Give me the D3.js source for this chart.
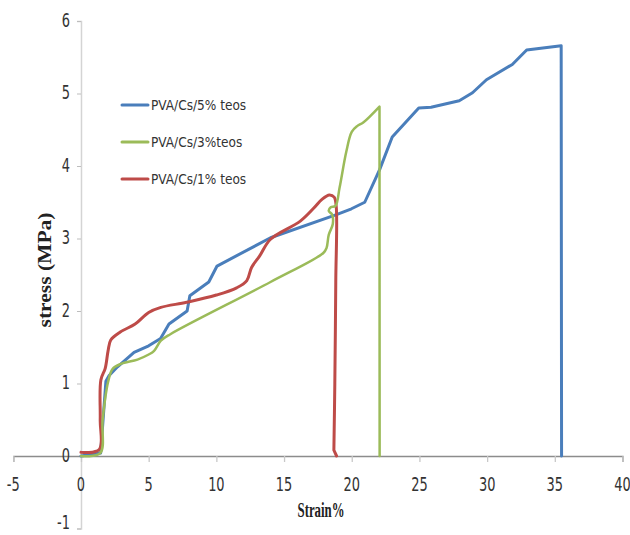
<!DOCTYPE html>
<html>
<head>
<meta charset="utf-8">
<script src="https://cdn.jsdelivr.net/npm/d3@7"></script>
<style>
   html, body { margin: 0; padding: 0; background: #fff; }
   svg { display: block; }
   .tick-label { font-family: "Liberation Sans Narrow", "DejaVu Sans Condensed", sans-serif; font-size: 16px; fill: #333; }
   .legend-label { font-family: "Liberation Sans Narrow", "DejaVu Sans Condensed", sans-serif; font-size: 13.5px; fill: #333; }
   .axis-title { font-family: "Liberation Serif", "DejaVu Serif", serif; font-weight: bold; fill: #222; }
</style>
</head>
<body>
<svg id="chart" width="630" height="535"></svg>
<script>
const seriesNames = [ 'PVA/Cs/5% teos', 'PVA/Cs/3%teos', 'PVA/Cs/1% teos' ];
const seriesColors = [ '#4a7ebb', '#9bbb59', '#be4b48' ];

const xTicks = [ -5, 0, 5, 10, 15, 20, 25, 30, 35, 40 ];
const yTicks = [ -1, 0, 1, 2, 3, 4, 5, 6 ];

// PVA/Cs/5% teos
const strain5 = [ 0, 1.45, 1.84, 2.08, 2.7, 3.92, 5.0, 5.88, 6.5, 7.84, 8.04, 9.44, 10.05, 14.0, 18.87, 19.98,
   20.96, 22.06, 22.99, 24.95, 25.86, 27.94, 28.92, 29.95, 31.86, 32.92, 35.47, 35.5 ];
const stress5 = [ 0, 0.04, 1.03, 1.11, 1.23, 1.43, 1.52, 1.62, 1.82, 2.0, 2.21, 2.4, 2.62, 3.01, 3.33, 3.41,
   3.5, 3.95, 4.4, 4.8, 4.81, 4.9, 5.01, 5.19, 5.4, 5.6, 5.66, 0 ];

// PVA/Cs/3%teos
const strain3 = [ 0, 1.42, 1.6, 2.0, 2.33, 2.94, 4.17, 5.0, 5.4, 5.9, 6.6, 14.0, 17.9, 18.14, 18.3, 18.6, 18.55,
   18.3, 18.45, 18.8, 19.1, 19.6, 20.0, 20.4, 20.85, 22.05, 22.06 ];
const stress3 = [ 0, 0.04, 0.5, 1.02, 1.2, 1.27, 1.33, 1.4, 1.45, 1.59, 1.68, 2.4, 2.8, 2.87, 3.05, 3.2, 3.33,
   3.38, 3.43, 3.45, 3.7, 4.2, 4.47, 4.55, 4.6, 4.82, 0 ];

// PVA/Cs/1% teos
const strain1 = [ 0, 1.35, 1.42, 1.47, 1.79, 2.0, 2.2, 2.9, 4.0, 5.0, 5.9, 7.8, 10.0, 11.5, 12.25, 12.6, 13.2,
   14.0, 16.2, 17.2, 17.8, 18.35, 18.7, 18.85, 18.82, 18.75, 18.68, 18.88 ];
const stress1 = [ 0.05, 0.09, 0.5, 1.05, 1.21, 1.45, 1.6, 1.71, 1.82, 1.98, 2.05, 2.12, 2.22, 2.32, 2.42, 2.6,
   2.76, 2.99, 3.24, 3.42, 3.54, 3.6, 3.57, 3.45, 2.4, 1.0, 0.08, 0 ];

const seriesStrain = [ strain5, strain3, strain1 ];
const seriesStress = [ stress5, stress3, stress1 ];

const svg = d3.select( '#chart' );

const x = d3.scaleLinear().domain( [ -5, 40 ] ).range( [ 13.3, 622.5 ] );
const y = d3.scaleLinear().domain( [ -1, 6 ] ).range( [ 528.5, 21 ] );

///////////////////////////////////////////////////////////////////////////////////////////////////////////////////

// y axis sits at strain 0, x axis at stress 0
const yAxis = svg.append( 'g' )
   .attr( 'transform', `translate(${x( 0 )},0)` )
   .call( d3.axisLeft( y ).tickValues( yTicks ).tickSize( 4 ).tickFormat( '' ) );
yAxis.select( '.domain' ).attr( 'stroke', '#d4d4d4' ).attr( 'stroke-width', 1.5 );
yAxis.selectAll( '.tick line' ).attr( 'stroke', '#bdbdbd' );

const xAxis = svg.append( 'g' )
   .attr( 'transform', `translate(0,${y( 0 )})` )
   .call( d3.axisBottom( x ).tickValues( xTicks ).tickSize( 6 ).tickFormat( '' ).tickSizeOuter( 6 ) );
xAxis.select( '.domain' ).attr( 'stroke', '#8c8c8c' ).attr( 'stroke-width', 1.3 );
xAxis.selectAll( '.tick line' ).attr( 'stroke', '#c8c8c8' ).attr( 'stroke-width', 1.3 );

// the lowest label would run off the bottom edge, so keep it just inside
svg.append( 'g' ).selectAll( 'text' )
   .data( yTicks )
   .join( 'text' )
   .attr( 'class', 'tick-label' )
   .attr( 'text-anchor', 'end' )
   .attr( 'transform', d => `translate(70,${Math.min( y( d ) + 5.5, 529 )}) scale(0.9,1.2)` )
   .text( d => d );

svg.append( 'g' ).selectAll( 'text' )
   .data( xTicks )
   .join( 'text' )
   .attr( 'class', 'tick-label' )
   .attr( 'text-anchor', 'middle' )
   .attr( 'transform', d => `translate(${x( d )},${y( 0 ) + 35}) scale(0.9,1.2)` )
   .text( d => d );

svg.append( 'text' )
   .attr( 'class', 'axis-title' )
   .attr( 'text-anchor', 'middle' )
   .attr( 'font-size', 20 )
   .attr( 'textLength', 47 )
   .attr( 'lengthAdjust', 'spacingAndGlyphs' )
   .attr( 'x', 321 )
   .attr( 'y', 517 )
   .text( 'Strain%' );

svg.append( 'text' )
   .attr( 'class', 'axis-title' )
   .attr( 'text-anchor', 'middle' )
   .attr( 'font-size', 19 )
   .attr( 'textLength', 115 )
   .attr( 'lengthAdjust', 'spacingAndGlyphs' )
   .attr( 'transform', 'translate(51,270) rotate(-90)' )
   .text( 'stress (MPa)' );

///////////////////////////////////////////////////////////////////////////////////////////////////////////////////

const smooth = d3.line()
   .x( d => x( d[ 0 ] ) )
   .y( d => y( d[ 1 ] ) )
   .curve( d3.curveCatmullRom.alpha( 0.5 ) );
const straight = d3.line()
   .x( d => x( d[ 0 ] ) )
   .y( d => y( d[ 1 ] ) );

// the break at the end of each run is a straight drop to zero
function seriesPath( points, curved ) {
   if( !curved ) {
      return straight( points );
   }
   const last = points[ points.length - 1 ];
   return smooth( points.slice( 0, -1 ) ) + `L${x( last[ 0 ] )},${y( last[ 1 ] )}`;
}

const widths = [ 3, 2.5, 3 ];
const curved = [ false, true, true ];
// drawing order: blue, red, green
[ 0, 2, 1 ].forEach( i => {
   const points = seriesStrain[ i ].map( ( s, k ) => [ s, seriesStress[ i ][ k ] ] );
   svg.append( 'path' )
      .attr( 'fill', 'none' )
      .attr( 'stroke', seriesColors[ i ] )
      .attr( 'stroke-width', widths[ i ] )
      .attr( 'stroke-linejoin', 'round' )
      .attr( 'stroke-linecap', 'round' )
      .attr( 'd', seriesPath( points, curved[ i ] ) );
} );

const legend = svg.append( 'g' ).selectAll( 'g' )
   .data( seriesNames )
   .join( 'g' )
   .attr( 'transform', ( d, i ) => `translate(122,${105 + i * 37})` );
legend.append( 'line' )
   .attr( 'x1', 0 )
   .attr( 'x2', 26 )
   .attr( 'stroke', ( d, i ) => seriesColors[ i ] )
   .attr( 'stroke-width', 3 )
   .attr( 'stroke-linecap', 'round' );
legend.append( 'text' )
   .attr( 'class', 'legend-label' )
   .attr( 'x', 29 )
   .attr( 'y', 5 )
   .text( d => d );
</script>
</body>
</html>
